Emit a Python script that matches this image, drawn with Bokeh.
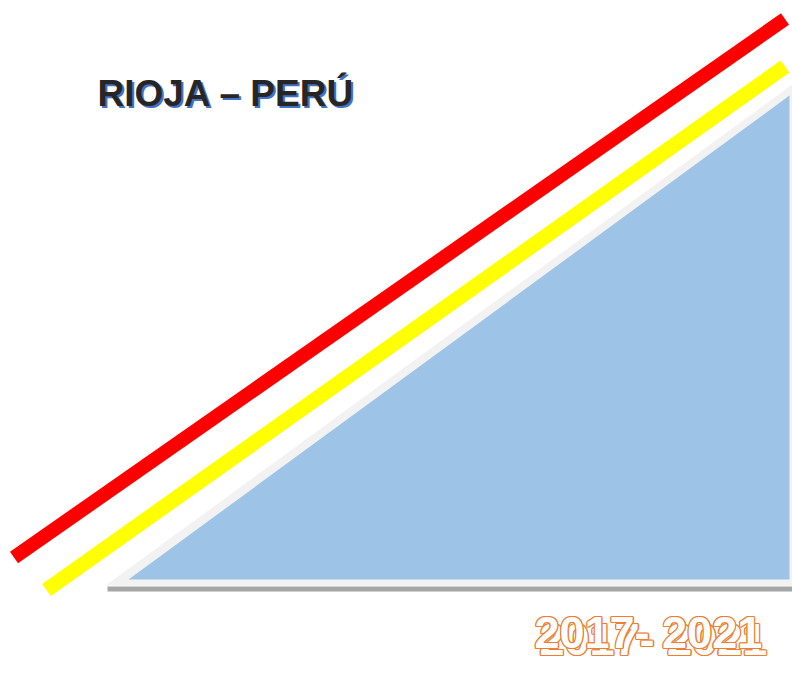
from bokeh.plotting import figure
from bokeh.models import Range1d
from bokeh.core.properties import value
from bokeh.embed import file_html
from bokeh.resources import INLINE

# Shapes (page pixel coordinates)
red_x = [13.5, 784.5]
red_y = [557.0, 18.5]
yellow_x = [46.0, 784.5]
yellow_y = [589.5, 66.0]
shade_x = [105, 792, 792]
shade_y = [585, 84, 585]
blue_x = [128, 789, 789]
blue_y = [579, 95, 579]
base_left = [107]
base_right = [792]
base_top = [586]
base_bottom = [591]

title_text = ["RIOJA \u2013 PER\u00da"]
title_x = [97]
title_y = [93]
years_text = ["2017- 2021"]
years_x = [534]
years_y = [632]

W, H = 792, 676
p = figure(width=W, height=H, output_backend="svg", toolbar_location=None,
           x_range=Range1d(0, W), y_range=Range1d(H, 0),
           min_border=0)
p.axis.visible = False
p.grid.visible = False
p.outline_line_color = None
p.background_fill_color = "white"
p.border_fill_color = "white"

# base shadow
p.quad(left=base_left, right=base_right, top=base_top, bottom=base_bottom,
       fill_color="#a6a6a6", line_color=None)
# light grey bevel triangle
p.patch(shade_x, shade_y, fill_color="#f2f2f2", line_color=None)
# blue triangle
p.patch(blue_x, blue_y, fill_color="#9dc3e6", line_color=None)
# stripes
p.line(red_x, red_y, line_color="#ff0000", line_width=14, line_cap="butt")
p.line(yellow_x, yellow_y, line_color="#ffff00", line_width=15, line_cap="butt")

# title with blue shadow
tf = value("'Liberation Sans', Arial, sans-serif")
p.text(x=title_x, y=title_y, text=title_text, text_font=tf, text_font_size="37px",
       text_font_style="bold", text_color="#4472c4", x_offset=2, y_offset=2,
       text_baseline="alphabetic")
p.text(x=title_x, y=title_y, text=title_text, text_font=tf, text_font_size="37px",
       text_font_style="bold", text_color="#262626",
       text_baseline="alphabetic")

# outlined orange years, two layers for a 3D look
ring = [(-1.3, 0), (1.3, 0), (0, -1.3), (0, 1.3), (-0.9, -0.9), (0.9, 0.9), (-0.9, 0.9), (0.9, -0.9)]
for lx, ly in [(5, 7), (0, 0)]:
    for dx, dy in ring:
        p.text(x=years_x, y=years_y, text=years_text, text_font=tf, text_font_size="45px",
               text_font_style="bold", text_color="#ed7d31", x_offset=lx + dx, y_offset=ly + dy,
               text_baseline="alphabetic")
    p.text(x=years_x, y=years_y, text=years_text, text_font=tf, text_font_size="45px",
           text_font_style="bold", text_color="white", x_offset=lx, y_offset=ly,
           text_baseline="alphabetic")

open("out.html", "w").write(file_html(p, INLINE))
